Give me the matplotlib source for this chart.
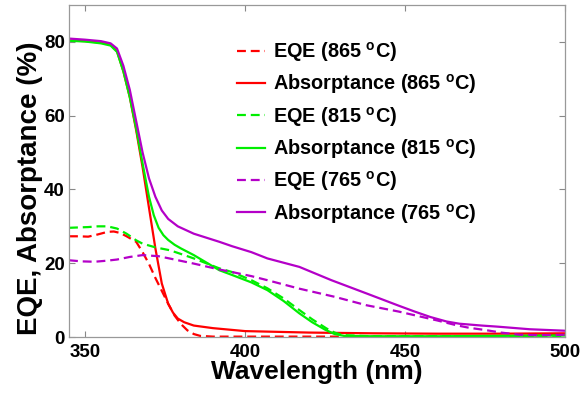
import matplotlib
matplotlib.use("Agg")
import matplotlib.pyplot as plt

plt.rcParams['font.family'] = ['Liberation Sans', 'DejaVu Sans']
plt.rcParams['font.weight'] = 'bold'
plt.rcParams['mathtext.fontset'] = 'custom'
plt.rcParams['mathtext.bf'] = 'Liberation Sans:bold'
plt.rcParams['mathtext.rm'] = 'Liberation Sans:bold'

# ---------------- data ----------------
abs865_x = [345, 350, 355, 358, 360, 362, 364, 366, 368, 370, 372, 374, 376, 377.5, 379, 381, 384, 390, 400, 420, 440, 460, 480, 500]
abs865_y = [80.4, 80.2, 79.8, 79.3, 77.5, 72, 65, 56, 46, 35, 24, 14.5, 9, 6.6, 5.0, 4.0, 3.1, 2.4, 1.6, 1.2, 1.0, 0.9, 0.9, 1.0]

eqe865_x = [345, 348, 351, 354, 357, 359, 361, 363, 366, 368, 370, 372, 374, 376, 378, 380, 382, 384, 386, 390, 420, 460, 480, 490, 500]
eqe865_y = [27.3, 27.3, 27.2, 27.8, 28.5, 28.6, 28.2, 27.3, 25.8, 23, 19.8, 16, 12.5, 9, 5.8, 3.5, 1.8, 0.8, 0.3, 0.1, 0.1, 0.1, 0.2, 0.4, 0.6]

abs815_x = [345, 350, 355, 358, 360, 362, 364, 366, 368, 370, 371.5, 373, 374.5, 376, 378, 380, 384, 392, 396, 402, 407, 412, 417, 421, 425, 428, 431, 440, 460, 480, 500]
abs815_y = [80.3, 80.1, 79.6, 79, 77.3, 72, 65, 56.5, 47, 38, 33, 29.6, 27.6, 26.3, 25.0, 24.0, 22.2, 18.1, 16.8, 14.8, 12.7, 9.8, 6.4, 4, 2, 0.8, 0.3, 0.2, 0.2, 0.3, 0.4]

eqe815_x = [345, 348, 351, 354, 357, 360, 363, 366, 368, 372, 376.6, 380, 384, 392, 396, 402, 407, 412, 417, 421, 425.5, 428, 430.6, 440, 470, 500]
eqe815_y = [29.6, 29.7, 29.8, 30, 30, 29.4, 28, 26.2, 25.3, 24.3, 23.5, 22.5, 21.3, 18.6, 17.6, 15.4, 13.2, 10.5, 7.3, 4.8, 2.3, 1.2, 0.5, 0.2, 0.2, 0.3]

abs765_x = [345, 350, 355, 358, 360, 362, 364, 366, 368, 370, 372, 374, 376, 379, 384, 392, 396, 402, 407, 417, 427, 438, 448, 453, 458, 463, 467, 474, 479, 489, 500]
abs765_y = [80.9, 80.6, 80.2, 79.6, 78.2, 73.5, 67, 58.5, 50, 43, 38, 34.3, 32, 30, 28, 25.8, 24.6, 23, 21.3, 19, 15.4, 11.8, 8.5, 6.9, 5.4, 4.2, 3.6, 3.1, 2.8, 2.1, 1.7]

eqe765_x = [345, 349, 353, 357, 360, 364, 368, 373, 378, 384, 392, 396, 402, 407, 417, 428, 438, 448, 453, 460, 466, 470, 475, 480, 486, 492, 500]
eqe765_y = [20.8, 20.5, 20.4, 20.7, 21, 21.7, 22.2, 21.9, 21, 19.9, 18.3, 17.6, 16.5, 15.4, 13.1, 10.9, 8.6, 6.9, 5.9, 4.5, 3.2, 2.5, 1.9, 1.2, 0.6, 0.5, 0.6]

labels = [r'EQE (865 $^{\mathbf{o}}$C)', r'Absorptance (865 $^{\mathbf{o}}$C)',
          r'EQE (815 $^{\mathbf{o}}$C)', r'Absorptance (815 $^{\mathbf{o}}$C)',
          r'EQE (765 $^{\mathbf{o}}$C)', r'Absorptance (765 $^{\mathbf{o}}$C)']
xticks = [350, 400, 450, 500]
yticks = [0, 20, 40, 60, 80]

# ---------------- plot ----------------
RED = '#ff0000'
GREEN = '#00ee00'
MAG = '#b400c8'
lw = 1.6
dash = (4, 2.2)

fig = plt.figure(figsize=(5.82, 3.94), dpi=100)
ax = fig.add_axes([69/582, 1-337/394, (565-69)/582, (337-5)/394])

ax.plot(eqe865_x, eqe865_y, color=RED, lw=lw, dashes=dash, label=labels[0])
ax.plot(abs865_x, abs865_y, color=RED, lw=lw, label=labels[1])
ax.plot(eqe815_x, eqe815_y, color=GREEN, lw=lw, dashes=dash, label=labels[2])
ax.plot(abs815_x, abs815_y, color=GREEN, lw=lw, label=labels[3])
ax.plot(eqe765_x, eqe765_y, color=MAG, lw=lw, dashes=dash, label=labels[4])
ax.plot(abs765_x, abs765_y, color=MAG, lw=lw, label=labels[5])

ax.set_xlim(345, 500)
ax.set_ylim(0, 90)
ax.set_xticks(xticks)
ax.set_yticks(yticks)
ax.tick_params(direction='in', length=4, width=0.8, color='#888888',
               top=True, right=True, labelsize=13.5)
ax.tick_params(axis='x', pad=5)
ax.tick_params(axis='y', pad=3)
for lab in ax.get_xticklabels() + ax.get_yticklabels():
    lab.set_fontweight('bold')
for s in ax.spines.values():
    s.set_color('#999999')
    s.set_linewidth(0.9)

ax.set_xlabel('Wavelength (nm)', fontsize=19, fontweight='bold', labelpad=-1)
ax.set_ylabel('EQE, Absorptance (%)', fontsize=20, fontweight='bold')
ax.yaxis.set_label_coords(-0.053, 0.449)

leg = ax.legend(loc='upper left', bbox_to_anchor=(237/582, 1-40/394),
                bbox_transform=fig.transFigure, frameon=False, fontsize=14.3,
                handlelength=1.42, handletextpad=0.4, labelspacing=0.42,
                borderpad=0, borderaxespad=0)
for t in leg.get_texts():
    t.set_fontweight('bold')

fig.savefig('out.png', dpi=100)
